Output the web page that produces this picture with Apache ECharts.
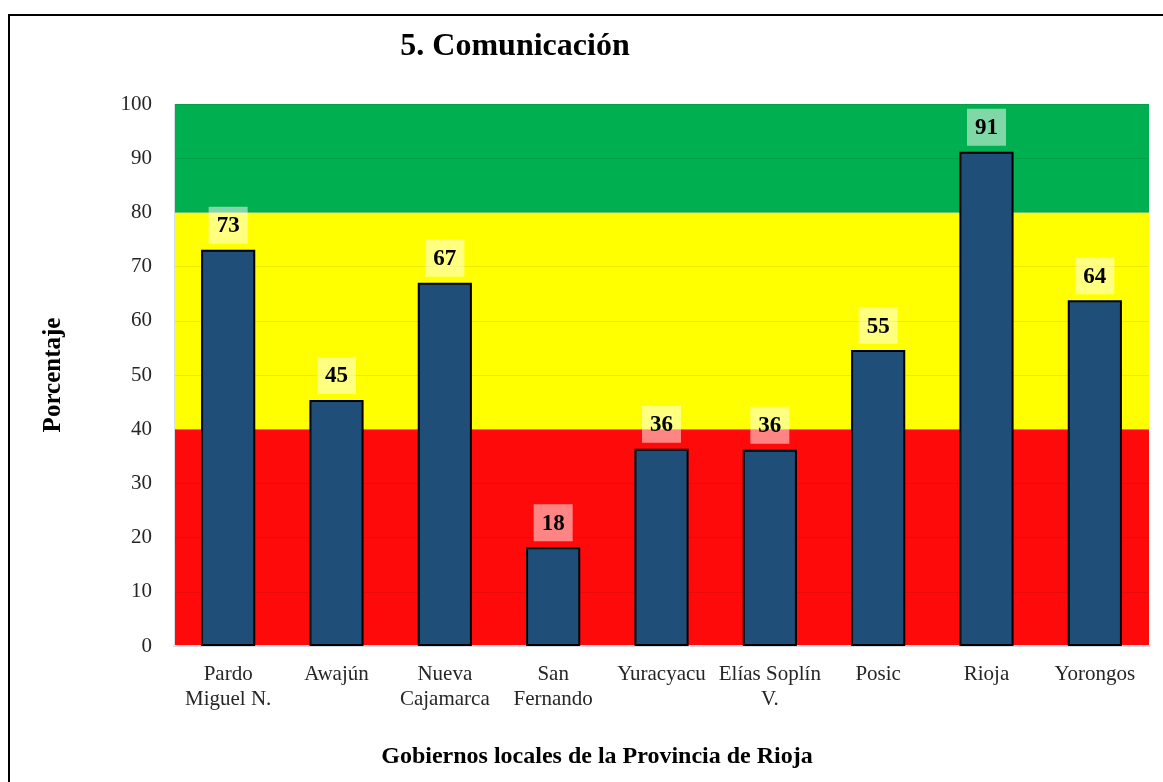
<!DOCTYPE html>
<html>
<head>
<meta charset="utf-8">
<script src="https://cdn.jsdelivr.net/npm/echarts@6/dist/echarts.min.js"></script>
<style>
html,body{margin:0;padding:0;background:#fff;}
#chart{width:1163px;height:782px;}
</style>
</head>
<body>
<div id="chart"></div>
<script>
const categories = ["Pardo\nMiguel N.", "Awajún", "Nueva\nCajamarca", "San\nFernando", "Yuracyacu", "Elías Soplín\nV.", "Posic", "Rioja", "Yorongos"];
const values = [73.1, 45.4, 67.0, 18.2, 36.4, 36.2, 54.6, 91.2, 63.8];
const yTicks = [0, 10, 20, 30, 40, 50, 60, 70, 80, 90, 100];
const bands = [[0, 40, '#FF0A0A'], [40, 80, '#FFFF00'], [80, 100, '#00AF50']];

const chart = echarts.init(document.getElementById('chart'));
const serif = '"Liberation Serif", "Times New Roman", serif';
chart.setOption({
  animation: false,
  textStyle: { fontFamily: serif },
  grid: { left: 174, right: 14, top: 104, bottom: 136 },
  graphic: [
    { type: 'rect', shape: { x: 9, y: 15, width: 1200, height: 820 }, style: { fill: 'none', stroke: '#000', lineWidth: 2 }, z: 100 },
    { type: 'text', x: 515, y: 47, style: { text: '5. Comunicación', fontFamily: serif, fontWeight: 'bold', fontSize: 32, fill: '#000', textAlign: 'center', textVerticalAlign: 'middle' } },
    { type: 'text', x: 597, y: 757, style: { text: 'Gobiernos locales de la Provincia de Rioja', fontFamily: serif, fontWeight: 'bold', fontSize: 24, fill: '#000', textAlign: 'center', textVerticalAlign: 'middle' } }
  ],
  xAxis: {
    type: 'category',
    data: categories,
    axisLine: { show: true, lineStyle: { color: '#D6DCE5', width: 2 } },
    axisTick: { show: false },
    axisLabel: { fontFamily: serif, fontSize: 21, color: '#262626', lineHeight: 25, margin: 16, interval: 0 },
    z: 3
  },
  yAxis: {
    type: 'value',
    min: 0, max: 100, interval: 10,
    name: 'Porcentaje',
    nameLocation: 'middle',
    nameGap: 108,
    nameRotate: 90,
    nameTextStyle: { fontFamily: serif, fontWeight: 'bold', fontSize: 25, color: '#000' },
    axisLine: { show: true, lineStyle: { color: '#D6DCE5', width: 1 } },
    axisTick: { show: false },
    axisLabel: { fontFamily: serif, fontSize: 21, color: '#262626', margin: 22,
      formatter: v => yTicks.includes(v) ? String(v) : '' },
    splitLine: { show: true, lineStyle: { color: 'rgba(0,0,0,0.08)', width: 1 } },
    z: 1.5
  },
  series: [{
    type: 'bar',
    data: values,
    barWidth: '50%',
    z: 3,
    itemStyle: { color: '#1F4E79', borderColor: '#000', borderWidth: 2 },
    label: {
      show: true,
      position: 'top',
      distance: 6,
      formatter: p => String(Math.round(p.value)),
      fontFamily: serif,
      fontWeight: 'bold',
      fontSize: 23,
      color: '#000',
      backgroundColor: 'rgba(255,255,255,0.5)',
      padding: [8, 8, 6, 8]
    },
    markArea: {
      silent: true,
      data: bands.map(b => [{ yAxis: b[0], itemStyle: { color: b[2], opacity: 1 } }, { yAxis: b[1] }])
    }
  }]
});
</script>
</body>
</html>
